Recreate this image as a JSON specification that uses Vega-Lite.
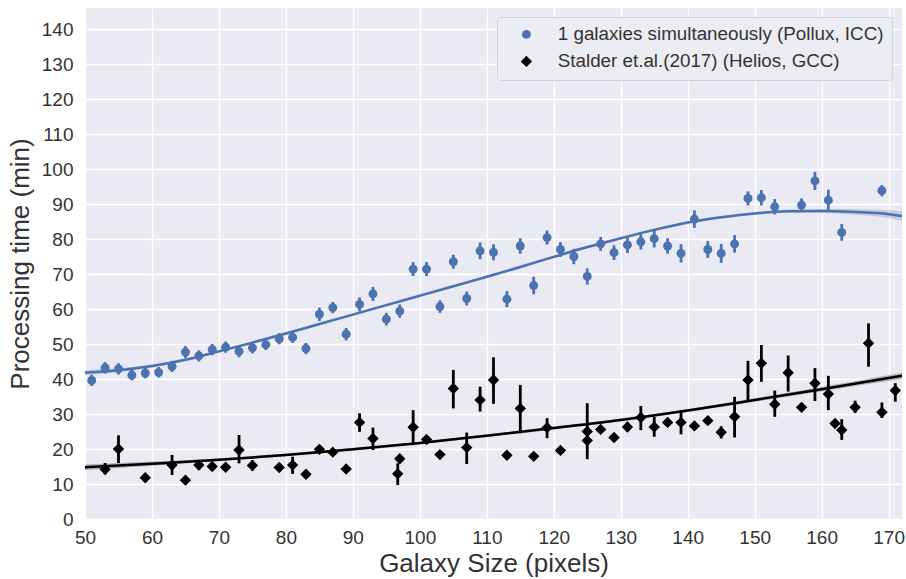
{
  "$schema": "https://vega.github.io/schema/vega-lite/v6.json",
  "width": 817,
  "height": 511,
  "autosize": {"type": "none"},
  "padding": {"left": 85, "top": 8, "right": 4, "bottom": 60},
  "background": "white",
  "config": {
    "font": "Liberation Sans",
    "view": {"fill": "#eaeaf2", "stroke": null},
    "axis": {
      "domain": false, "ticks": false, "grid": true, "gridColor": "#ffffff", "gridWidth": 1.4,
      "labelFontSize": 19, "labelColor": "#333333", "titleFontSize": 26, "titleFontWeight": "normal",
      "titleColor": "#333333", "labelFont": "Liberation Sans", "titleFont": "Liberation Sans", "labelFlush": false
    },
    "legend": {
      "labelFontSize": 18.8, "labelColor": "#333333", "labelFont": "Liberation Sans", "labelLimit": 0
    }
  },
  "datasets": {
    "pts": [
      {"s": "1 galaxies simultaneously (Pollux, ICC)", "x": 51, "y": 39.6, "lo": 38.0, "hi": 41.2},
      {"s": "1 galaxies simultaneously (Pollux, ICC)", "x": 53, "y": 43.2, "lo": 41.6, "hi": 44.8},
      {"s": "1 galaxies simultaneously (Pollux, ICC)", "x": 55, "y": 42.9, "lo": 41.3, "hi": 44.5},
      {"s": "1 galaxies simultaneously (Pollux, ICC)", "x": 57, "y": 41.1, "lo": 39.6, "hi": 42.6},
      {"s": "1 galaxies simultaneously (Pollux, ICC)", "x": 59, "y": 41.7, "lo": 40.2, "hi": 43.2},
      {"s": "1 galaxies simultaneously (Pollux, ICC)", "x": 61, "y": 41.9, "lo": 40.4, "hi": 43.4},
      {"s": "1 galaxies simultaneously (Pollux, ICC)", "x": 63, "y": 43.6, "lo": 42.0, "hi": 45.2},
      {"s": "1 galaxies simultaneously (Pollux, ICC)", "x": 65, "y": 47.7, "lo": 46.0, "hi": 49.4},
      {"s": "1 galaxies simultaneously (Pollux, ICC)", "x": 67, "y": 46.6, "lo": 45.0, "hi": 48.2},
      {"s": "1 galaxies simultaneously (Pollux, ICC)", "x": 69, "y": 48.4, "lo": 46.8, "hi": 50.0},
      {"s": "1 galaxies simultaneously (Pollux, ICC)", "x": 71, "y": 49.1, "lo": 47.5, "hi": 50.7},
      {"s": "1 galaxies simultaneously (Pollux, ICC)", "x": 73, "y": 47.9, "lo": 46.2, "hi": 49.6},
      {"s": "1 galaxies simultaneously (Pollux, ICC)", "x": 75, "y": 48.9, "lo": 47.3, "hi": 50.5},
      {"s": "1 galaxies simultaneously (Pollux, ICC)", "x": 77, "y": 49.8, "lo": 48.3, "hi": 51.3},
      {"s": "1 galaxies simultaneously (Pollux, ICC)", "x": 79, "y": 51.5, "lo": 49.9, "hi": 53.1},
      {"s": "1 galaxies simultaneously (Pollux, ICC)", "x": 81, "y": 51.9, "lo": 50.3, "hi": 53.5},
      {"s": "1 galaxies simultaneously (Pollux, ICC)", "x": 83, "y": 48.7, "lo": 47.1, "hi": 50.3},
      {"s": "1 galaxies simultaneously (Pollux, ICC)", "x": 85, "y": 58.5, "lo": 56.6, "hi": 60.4},
      {"s": "1 galaxies simultaneously (Pollux, ICC)", "x": 87, "y": 60.4, "lo": 58.8, "hi": 62.0},
      {"s": "1 galaxies simultaneously (Pollux, ICC)", "x": 89, "y": 52.8, "lo": 51.0, "hi": 54.6},
      {"s": "1 galaxies simultaneously (Pollux, ICC)", "x": 91, "y": 61.3, "lo": 59.3, "hi": 63.3},
      {"s": "1 galaxies simultaneously (Pollux, ICC)", "x": 93, "y": 64.3, "lo": 62.3, "hi": 66.3},
      {"s": "1 galaxies simultaneously (Pollux, ICC)", "x": 95, "y": 57.1, "lo": 55.3, "hi": 58.9},
      {"s": "1 galaxies simultaneously (Pollux, ICC)", "x": 97, "y": 59.4, "lo": 57.5, "hi": 61.3},
      {"s": "1 galaxies simultaneously (Pollux, ICC)", "x": 99, "y": 71.4, "lo": 69.4, "hi": 73.4},
      {"s": "1 galaxies simultaneously (Pollux, ICC)", "x": 101, "y": 71.4, "lo": 69.4, "hi": 73.4},
      {"s": "1 galaxies simultaneously (Pollux, ICC)", "x": 103, "y": 60.7, "lo": 58.9, "hi": 62.5},
      {"s": "1 galaxies simultaneously (Pollux, ICC)", "x": 105, "y": 73.5, "lo": 71.5, "hi": 75.5},
      {"s": "1 galaxies simultaneously (Pollux, ICC)", "x": 107, "y": 63.0, "lo": 61.0, "hi": 65.0},
      {"s": "1 galaxies simultaneously (Pollux, ICC)", "x": 109, "y": 76.6, "lo": 74.2, "hi": 79.0},
      {"s": "1 galaxies simultaneously (Pollux, ICC)", "x": 111, "y": 76.2, "lo": 73.9, "hi": 78.5},
      {"s": "1 galaxies simultaneously (Pollux, ICC)", "x": 113, "y": 62.8, "lo": 60.5, "hi": 65.1},
      {"s": "1 galaxies simultaneously (Pollux, ICC)", "x": 115, "y": 78.0, "lo": 75.8, "hi": 80.2},
      {"s": "1 galaxies simultaneously (Pollux, ICC)", "x": 117, "y": 66.7, "lo": 64.2, "hi": 69.2},
      {"s": "1 galaxies simultaneously (Pollux, ICC)", "x": 119, "y": 80.4, "lo": 78.4, "hi": 82.4},
      {"s": "1 galaxies simultaneously (Pollux, ICC)", "x": 121, "y": 77.0, "lo": 74.9, "hi": 79.1},
      {"s": "1 galaxies simultaneously (Pollux, ICC)", "x": 123, "y": 75.0, "lo": 72.8, "hi": 77.2},
      {"s": "1 galaxies simultaneously (Pollux, ICC)", "x": 125, "y": 69.3, "lo": 67.0, "hi": 71.6},
      {"s": "1 galaxies simultaneously (Pollux, ICC)", "x": 127, "y": 78.6, "lo": 76.6, "hi": 80.6},
      {"s": "1 galaxies simultaneously (Pollux, ICC)", "x": 129, "y": 76.1, "lo": 74.0, "hi": 78.2},
      {"s": "1 galaxies simultaneously (Pollux, ICC)", "x": 131, "y": 78.3, "lo": 76.0, "hi": 80.6},
      {"s": "1 galaxies simultaneously (Pollux, ICC)", "x": 133, "y": 79.2, "lo": 77.0, "hi": 81.4},
      {"s": "1 galaxies simultaneously (Pollux, ICC)", "x": 135, "y": 80.1, "lo": 77.6, "hi": 82.6},
      {"s": "1 galaxies simultaneously (Pollux, ICC)", "x": 137, "y": 78.0, "lo": 75.8, "hi": 80.2},
      {"s": "1 galaxies simultaneously (Pollux, ICC)", "x": 139, "y": 75.9, "lo": 73.3, "hi": 78.5},
      {"s": "1 galaxies simultaneously (Pollux, ICC)", "x": 141, "y": 85.7, "lo": 83.2, "hi": 88.2},
      {"s": "1 galaxies simultaneously (Pollux, ICC)", "x": 143, "y": 77.0, "lo": 74.6, "hi": 79.4},
      {"s": "1 galaxies simultaneously (Pollux, ICC)", "x": 145, "y": 75.9, "lo": 73.2, "hi": 78.6},
      {"s": "1 galaxies simultaneously (Pollux, ICC)", "x": 147, "y": 78.6, "lo": 76.1, "hi": 81.1},
      {"s": "1 galaxies simultaneously (Pollux, ICC)", "x": 149, "y": 91.6, "lo": 89.6, "hi": 93.6},
      {"s": "1 galaxies simultaneously (Pollux, ICC)", "x": 151, "y": 91.8, "lo": 89.6, "hi": 94.0},
      {"s": "1 galaxies simultaneously (Pollux, ICC)", "x": 153, "y": 89.2, "lo": 87.0, "hi": 91.4},
      {"s": "1 galaxies simultaneously (Pollux, ICC)", "x": 157, "y": 89.7, "lo": 87.8, "hi": 91.6},
      {"s": "1 galaxies simultaneously (Pollux, ICC)", "x": 159, "y": 96.6, "lo": 94.0, "hi": 99.2},
      {"s": "1 galaxies simultaneously (Pollux, ICC)", "x": 161, "y": 91.1, "lo": 88.1, "hi": 94.1},
      {"s": "1 galaxies simultaneously (Pollux, ICC)", "x": 163, "y": 81.9, "lo": 79.5, "hi": 84.3},
      {"s": "1 galaxies simultaneously (Pollux, ICC)", "x": 169, "y": 93.8, "lo": 92.2, "hi": 95.4},
      {"s": "Stalder et.al.(2017) (Helios, GCC)", "x": 53, "y": 14.2, "lo": 12.7, "hi": 16.0},
      {"s": "Stalder et.al.(2017) (Helios, GCC)", "x": 55, "y": 20.0, "lo": 16.0, "hi": 23.9},
      {"s": "Stalder et.al.(2017) (Helios, GCC)", "x": 59, "y": 11.8, "lo": 11.8, "hi": 11.8},
      {"s": "Stalder et.al.(2017) (Helios, GCC)", "x": 63, "y": 15.4, "lo": 12.6, "hi": 18.3},
      {"s": "Stalder et.al.(2017) (Helios, GCC)", "x": 65, "y": 11.1, "lo": 11.1, "hi": 11.1},
      {"s": "Stalder et.al.(2017) (Helios, GCC)", "x": 67, "y": 15.4, "lo": 14.0, "hi": 16.8},
      {"s": "Stalder et.al.(2017) (Helios, GCC)", "x": 69, "y": 15.0, "lo": 14.0, "hi": 16.0},
      {"s": "Stalder et.al.(2017) (Helios, GCC)", "x": 71, "y": 14.8, "lo": 14.8, "hi": 14.8},
      {"s": "Stalder et.al.(2017) (Helios, GCC)", "x": 73, "y": 19.7, "lo": 15.9, "hi": 24.0},
      {"s": "Stalder et.al.(2017) (Helios, GCC)", "x": 75, "y": 15.3, "lo": 13.8, "hi": 16.8},
      {"s": "Stalder et.al.(2017) (Helios, GCC)", "x": 79, "y": 14.7, "lo": 14.7, "hi": 14.7},
      {"s": "Stalder et.al.(2017) (Helios, GCC)", "x": 81, "y": 15.4, "lo": 12.9, "hi": 17.8},
      {"s": "Stalder et.al.(2017) (Helios, GCC)", "x": 83, "y": 12.8, "lo": 12.8, "hi": 12.8},
      {"s": "Stalder et.al.(2017) (Helios, GCC)", "x": 85, "y": 19.9, "lo": 19.9, "hi": 19.9},
      {"s": "Stalder et.al.(2017) (Helios, GCC)", "x": 87, "y": 19.1, "lo": 19.1, "hi": 19.1},
      {"s": "Stalder et.al.(2017) (Helios, GCC)", "x": 89, "y": 14.3, "lo": 14.3, "hi": 14.3},
      {"s": "Stalder et.al.(2017) (Helios, GCC)", "x": 91, "y": 27.6, "lo": 24.9, "hi": 30.2},
      {"s": "Stalder et.al.(2017) (Helios, GCC)", "x": 93, "y": 23.0, "lo": 19.7, "hi": 26.1},
      {"s": "Stalder et.al.(2017) (Helios, GCC)", "x": 96.7, "y": 12.9, "lo": 9.7, "hi": 15.9},
      {"s": "Stalder et.al.(2017) (Helios, GCC)", "x": 97, "y": 17.2, "lo": 16.0, "hi": 18.3},
      {"s": "Stalder et.al.(2017) (Helios, GCC)", "x": 99, "y": 26.2, "lo": 21.1, "hi": 31.1},
      {"s": "Stalder et.al.(2017) (Helios, GCC)", "x": 101, "y": 22.7, "lo": 22.7, "hi": 22.7},
      {"s": "Stalder et.al.(2017) (Helios, GCC)", "x": 103, "y": 18.4, "lo": 18.4, "hi": 18.4},
      {"s": "Stalder et.al.(2017) (Helios, GCC)", "x": 105, "y": 37.3, "lo": 31.6, "hi": 42.6},
      {"s": "Stalder et.al.(2017) (Helios, GCC)", "x": 107, "y": 20.4, "lo": 15.7, "hi": 24.7},
      {"s": "Stalder et.al.(2017) (Helios, GCC)", "x": 109, "y": 34.0, "lo": 30.7, "hi": 37.8},
      {"s": "Stalder et.al.(2017) (Helios, GCC)", "x": 111, "y": 39.7, "lo": 32.9, "hi": 46.2},
      {"s": "Stalder et.al.(2017) (Helios, GCC)", "x": 113, "y": 18.2, "lo": 18.2, "hi": 18.2},
      {"s": "Stalder et.al.(2017) (Helios, GCC)", "x": 115, "y": 31.6, "lo": 24.5, "hi": 38.3},
      {"s": "Stalder et.al.(2017) (Helios, GCC)", "x": 117, "y": 17.9, "lo": 17.9, "hi": 17.9},
      {"s": "Stalder et.al.(2017) (Helios, GCC)", "x": 119, "y": 26.1, "lo": 23.1, "hi": 28.8},
      {"s": "Stalder et.al.(2017) (Helios, GCC)", "x": 121, "y": 19.6, "lo": 19.6, "hi": 19.6},
      {"s": "Stalder et.al.(2017) (Helios, GCC)", "x": 125, "y": 25.0, "lo": 17.1, "hi": 33.1},
      {"s": "Stalder et.al.(2017) (Helios, GCC)", "x": 125, "y": 22.4, "lo": 22.4, "hi": 22.4},
      {"s": "Stalder et.al.(2017) (Helios, GCC)", "x": 127, "y": 25.6, "lo": 25.6, "hi": 25.6},
      {"s": "Stalder et.al.(2017) (Helios, GCC)", "x": 129, "y": 23.3, "lo": 23.3, "hi": 23.3},
      {"s": "Stalder et.al.(2017) (Helios, GCC)", "x": 131, "y": 26.3, "lo": 25.0, "hi": 27.5},
      {"s": "Stalder et.al.(2017) (Helios, GCC)", "x": 133, "y": 29.0, "lo": 25.4, "hi": 32.3},
      {"s": "Stalder et.al.(2017) (Helios, GCC)", "x": 135, "y": 26.3, "lo": 23.5, "hi": 29.2},
      {"s": "Stalder et.al.(2017) (Helios, GCC)", "x": 137, "y": 27.6, "lo": 26.5, "hi": 28.8},
      {"s": "Stalder et.al.(2017) (Helios, GCC)", "x": 139, "y": 27.6, "lo": 24.2, "hi": 31.1},
      {"s": "Stalder et.al.(2017) (Helios, GCC)", "x": 141, "y": 26.6, "lo": 25.5, "hi": 27.8},
      {"s": "Stalder et.al.(2017) (Helios, GCC)", "x": 143, "y": 28.1, "lo": 27.0, "hi": 29.3},
      {"s": "Stalder et.al.(2017) (Helios, GCC)", "x": 145, "y": 24.8, "lo": 23.0, "hi": 26.5},
      {"s": "Stalder et.al.(2017) (Helios, GCC)", "x": 147, "y": 29.2, "lo": 23.3, "hi": 34.9},
      {"s": "Stalder et.al.(2017) (Helios, GCC)", "x": 149, "y": 39.7, "lo": 33.5, "hi": 45.2},
      {"s": "Stalder et.al.(2017) (Helios, GCC)", "x": 151, "y": 44.5, "lo": 39.2, "hi": 49.7},
      {"s": "Stalder et.al.(2017) (Helios, GCC)", "x": 153, "y": 32.8, "lo": 29.2, "hi": 36.7},
      {"s": "Stalder et.al.(2017) (Helios, GCC)", "x": 155, "y": 41.8, "lo": 36.4, "hi": 46.7},
      {"s": "Stalder et.al.(2017) (Helios, GCC)", "x": 157, "y": 31.9, "lo": 31.0, "hi": 32.8},
      {"s": "Stalder et.al.(2017) (Helios, GCC)", "x": 159, "y": 38.8, "lo": 33.7, "hi": 43.1},
      {"s": "Stalder et.al.(2017) (Helios, GCC)", "x": 161, "y": 35.7, "lo": 31.1, "hi": 40.9},
      {"s": "Stalder et.al.(2017) (Helios, GCC)", "x": 162, "y": 27.3, "lo": 27.3, "hi": 27.3},
      {"s": "Stalder et.al.(2017) (Helios, GCC)", "x": 163, "y": 25.4, "lo": 22.6, "hi": 28.5},
      {"s": "Stalder et.al.(2017) (Helios, GCC)", "x": 165, "y": 31.9, "lo": 30.3, "hi": 33.8},
      {"s": "Stalder et.al.(2017) (Helios, GCC)", "x": 167, "y": 50.2, "lo": 43.5, "hi": 55.9},
      {"s": "Stalder et.al.(2017) (Helios, GCC)", "x": 169, "y": 30.5, "lo": 28.9, "hi": 33.3},
      {"s": "Stalder et.al.(2017) (Helios, GCC)", "x": 171, "y": 36.7, "lo": 33.5, "hi": 38.8}
    ],
    "curves": [
      {"s": "A", "x": 50, "y": 41.8, "lo": 41.0, "hi": 42.6},
      {"s": "A", "x": 55, "y": 42.5, "lo": 41.9, "hi": 43.1},
      {"s": "A", "x": 60, "y": 43.7, "lo": 43.2, "hi": 44.2},
      {"s": "A", "x": 65, "y": 45.5, "lo": 45.1, "hi": 45.9},
      {"s": "A", "x": 70, "y": 47.9, "lo": 47.5, "hi": 48.3},
      {"s": "A", "x": 75, "y": 50.4, "lo": 50.0, "hi": 50.8},
      {"s": "A", "x": 80, "y": 53.0, "lo": 52.6, "hi": 53.4},
      {"s": "A", "x": 85, "y": 55.7, "lo": 55.3, "hi": 56.1},
      {"s": "A", "x": 90, "y": 58.4, "lo": 58.0, "hi": 58.8},
      {"s": "A", "x": 95, "y": 61.1, "lo": 60.7, "hi": 61.5},
      {"s": "A", "x": 100, "y": 63.8, "lo": 63.4, "hi": 64.2},
      {"s": "A", "x": 105, "y": 66.5, "lo": 66.1, "hi": 66.9},
      {"s": "A", "x": 110, "y": 69.2, "lo": 68.8, "hi": 69.6},
      {"s": "A", "x": 115, "y": 72.0, "lo": 71.6, "hi": 72.4},
      {"s": "A", "x": 120, "y": 74.9, "lo": 74.5, "hi": 75.3},
      {"s": "A", "x": 125, "y": 77.7, "lo": 77.3, "hi": 78.1},
      {"s": "A", "x": 130, "y": 80.2, "lo": 79.8, "hi": 80.6},
      {"s": "A", "x": 135, "y": 82.6, "lo": 82.2, "hi": 83.0},
      {"s": "A", "x": 140, "y": 84.7, "lo": 84.3, "hi": 85.1},
      {"s": "A", "x": 145, "y": 86.2, "lo": 85.8, "hi": 86.6},
      {"s": "A", "x": 150, "y": 87.3, "lo": 86.9, "hi": 87.7},
      {"s": "A", "x": 155, "y": 87.9, "lo": 87.4, "hi": 88.4},
      {"s": "A", "x": 160, "y": 88.0, "lo": 87.4, "hi": 88.6},
      {"s": "A", "x": 165, "y": 87.7, "lo": 86.9, "hi": 88.5},
      {"s": "A", "x": 170, "y": 87.1, "lo": 86.0, "hi": 88.2},
      {"s": "A", "x": 172, "y": 86.6, "lo": 85.3, "hi": 87.9},
      {"s": "B", "x": 50, "y": 14.8, "lo": 14.0, "hi": 15.6},
      {"s": "B", "x": 60, "y": 15.8, "lo": 15.2, "hi": 16.4},
      {"s": "B", "x": 70, "y": 16.9, "lo": 16.5, "hi": 17.3},
      {"s": "B", "x": 80, "y": 18.3, "lo": 17.9, "hi": 18.7},
      {"s": "B", "x": 90, "y": 19.9, "lo": 19.5, "hi": 20.3},
      {"s": "B", "x": 100, "y": 21.7, "lo": 21.3, "hi": 22.1},
      {"s": "B", "x": 110, "y": 23.8, "lo": 23.4, "hi": 24.2},
      {"s": "B", "x": 120, "y": 26.0, "lo": 25.6, "hi": 26.4},
      {"s": "B", "x": 130, "y": 28.3, "lo": 27.9, "hi": 28.7},
      {"s": "B", "x": 140, "y": 31.0, "lo": 30.6, "hi": 31.4},
      {"s": "B", "x": 150, "y": 34.0, "lo": 33.5, "hi": 34.5},
      {"s": "B", "x": 160, "y": 37.1, "lo": 36.5, "hi": 37.7},
      {"s": "B", "x": 172, "y": 40.9, "lo": 40.0, "hi": 41.8}
    ]
  },
  "encoding": {
    "x": {"field": "x", "type": "quantitative", "scale": {"domain": [50, 172], "nice": false, "zero": false},
      "axis": {"values": [50, 60, 70, 80, 90, 100, 110, 120, 130, 140, 150, 160, 170], "title": "Galaxy Size (pixels)", "labelPadding": 9, "titlePadding": 3}},
    "y": {"field": "y", "type": "quantitative", "scale": {"domain": [0, 146], "nice": false},
      "axis": {"values": [0, 10, 20, 30, 40, 50, 60, 70, 80, 90, 100, 110, 120, 130, 140], "title": "Processing time (min)", "labelPadding": 12, "titlePadding": 8}}
  },
  "layer": [
    {
      "data": {"name": "curves"},
      "mark": {"type": "area", "opacity": 0.25, "interpolate": "monotone"},
      "encoding": {
        "y": {"field": "lo", "type": "quantitative"},
        "y2": {"field": "hi"},
        "fill": {"field": "s", "type": "nominal", "scale": {"domain": ["A", "B"], "range": ["#4c72b0", "#000000"]}, "legend": null}
      }
    },
    {
      "data": {"name": "curves"},
      "mark": {"type": "line", "strokeWidth": 2.5, "interpolate": "monotone"},
      "encoding": {
        "stroke": {"field": "s", "type": "nominal", "scale": {"domain": ["A", "B"], "range": ["#4c72b0", "#000000"]}, "legend": null}
      }
    },
    {
      "data": {"name": "pts"},
      "mark": {"type": "rule", "strokeWidth": 2.8},
      "encoding": {
        "y": {"field": "lo", "type": "quantitative"},
        "y2": {"field": "hi"},
        "strokeOpacity": {"value": 1},
        "stroke": {"field": "s", "type": "nominal", "scale": {"domain": ["1 galaxies simultaneously (Pollux, ICC)", "Stalder et.al.(2017) (Helios, GCC)"], "range": ["#4c72b0", "#000000"]}, "legend": null}
      }
    },
    {
      "data": {"name": "pts"},
      "mark": {"type": "point", "filled": true, "opacity": 1},
      "encoding": {
        "color": {"field": "s", "type": "nominal", "title": null, "scale": {"domain": ["1 galaxies simultaneously (Pollux, ICC)", "Stalder et.al.(2017) (Helios, GCC)"], "range": ["#4c72b0", "#000000"]},
          "legend": {"orient": "none", "legendX": 412, "legendY": 9, "padding": 8, "symbolOffset": 12, "labelOffset": 22, "rowPadding": 7, "fillColor": "#ececf3", "strokeColor": "#d2d2da", "cornerRadius": 3, "symbolSize": 90, "symbolStrokeWidth": 0}},
        "shape": {"field": "s", "type": "nominal", "title": null, "scale": {"domain": ["1 galaxies simultaneously (Pollux, ICC)", "Stalder et.al.(2017) (Helios, GCC)"], "range": ["circle", "diamond"]}},
        "size": {"field": "s", "type": "nominal", "legend": null, "scale": {"domain": ["1 galaxies simultaneously (Pollux, ICC)", "Stalder et.al.(2017) (Helios, GCC)"], "range": [80, 130]}}
      }
    }
  ],
  "resolve": {"scale": {"y": "shared"}}
}
